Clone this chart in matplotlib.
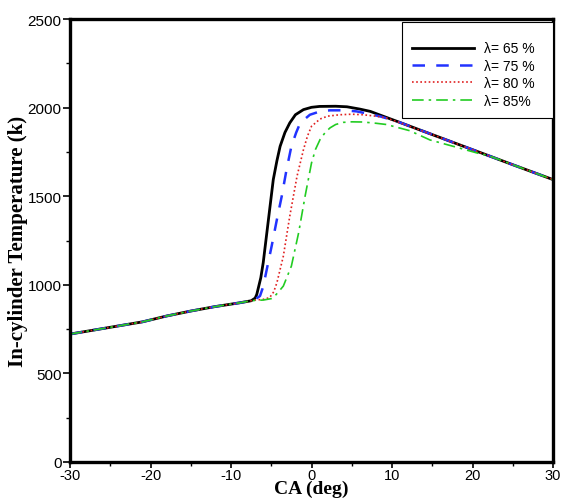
import matplotlib
matplotlib.use('Agg')
import matplotlib.pyplot as plt
from matplotlib.ticker import MultipleLocator

plt.rcParams['axes.unicode_minus'] = False

# compression part shared by all cases
x_low = [-30, -27, -24, -21, -18, -15, -12, -9, -7.5]
y_low = [722, 745, 768, 791, 824, 852, 877, 898, 910]

# expansion tail shared by all cases
x_tail = [22, 25, 30]
y_tail = [1729, 1678, 1594]

x65 = [-7, -6.8, -6.3, -6.0, -5.4, -4.75, -4.3, -3.9, -3.3, -2.7, -2.0, -1.0, 0, 1, 3, 4.4, 6, 7.3, 9, 10.6, 15, 20]
y65 = [925, 946, 1040, 1125, 1350, 1594, 1700, 1782, 1860, 1914, 1960, 1989, 2002, 2007, 2008, 2005, 1992, 1979, 1950, 1923, 1848, 1763]

x75 = [-7, -6.4, -6.0, -5.6, -4.95, -4.3, -3.7, -3.1, -2.5, -1.9, -1.4, -0.2, 1, 2.3, 4, 5.6, 7, 8.5, 10.6, 15, 20]
y75 = [918, 937, 990, 1078, 1219, 1369, 1500, 1651, 1782, 1860, 1914, 1960, 1978, 1985, 1985, 1979, 1966, 1951, 1923, 1848, 1763]

x80 = [-7, -6, -5.2, -4.7, -4.3, -3.5, -2.7, -1.8, -1.0, -0.5, 0.0, 1.06, 2, 3.5, 5, 6.4, 8, 9.3, 11, 12, 15, 20]
y80 = [914, 918, 928, 960, 1012, 1162, 1388, 1613, 1763, 1840, 1895, 1936, 1952, 1960, 1963, 1960, 1952, 1942, 1915, 1898, 1848, 1763]

x85 = [-7, -6, -5, -4.75, -4.2, -3.5, -2.5, -1.6, -0.8, 0.0, 0.5, 1.06, 1.7, 2.3, 3, 3.95, 5, 6.4, 8, 9.3, 12.2, 14.7, 17.5, 20.9]
y85 = [912, 914, 922, 928, 955, 993, 1106, 1294, 1500, 1688, 1765, 1820, 1860, 1886, 1905, 1917, 1920, 1919, 1912, 1905, 1870, 1818, 1783, 1740]

labels = ['λ= 65 %', 'λ= 75 %', 'λ= 80 %', 'λ= 85%']

fig = plt.figure(figsize=(5.62, 5.02), dpi=100)
ax = fig.add_axes([0.1246, 0.0777, 0.8594, 0.8823])

ax.plot(x_low + x65 + x_tail, y_low + y65 + y_tail, c='black', lw=2.0, label=labels[0])
ax.plot(x_low + x75 + x_tail, y_low + y75 + y_tail, c='#2233ff', lw=1.8, ls=(0, (5, 4.5)), label=labels[1])
ax.plot(x_low + x80 + x_tail, y_low + y80 + y_tail, c='#e02020', lw=1.2, ls=(0, (1, 1.5)), label=labels[2])
ax.plot(x_low + x85 + x_tail, y_low + y85 + y_tail, c='#22cc22', lw=1.2, ls=(0, (7, 3, 1.5, 3)), label=labels[3])

ax.set_xlim(-30, 30)
ax.set_ylim(0, 2500)
ax.xaxis.set_major_locator(MultipleLocator(10))
ax.xaxis.set_minor_locator(MultipleLocator(5))
ax.yaxis.set_major_locator(MultipleLocator(500))
ax.yaxis.set_minor_locator(MultipleLocator(250))

for s in ax.spines.values():
    s.set_linewidth(2.4)
ax.tick_params(which='major', direction='out', length=5, width=1.2, labelsize=11, pad=1)
ax.tick_params(which='minor', direction='out', length=3, width=1.0)
ax.tick_params(axis='x', which='major', length=4, pad=0, labelsize=10.5)
for t in ax.get_xticklabels() + ax.get_yticklabels():
    t.set_fontfamily('Liberation Sans')

ax.set_xlabel('CA (deg)', fontfamily='Liberation Serif', fontweight='bold', fontsize=14)
ax.set_ylabel('In-cylinder Temperature (k)', fontfamily='Liberation Serif', fontweight='bold', fontsize=15)
ax.xaxis.set_label_coords(0.5, -0.041)
ax.yaxis.set_label_coords(-0.088, 0.5)

leg = ax.legend(loc='upper left', bbox_to_anchor=(0.687, 0.779, 0.313, 0.214), mode='expand',
                borderaxespad=0, title=' ', title_fontsize=5,
                prop={'family': 'Liberation Sans', 'size': 10}, handlelength=4.5,
                handletextpad=0.7, labelspacing=0.25, borderpad=0.7, fancybox=False,
                framealpha=1, edgecolor='black')
leg.get_frame().set_linewidth(0.8)

fig.savefig('out.png', dpi=100)
